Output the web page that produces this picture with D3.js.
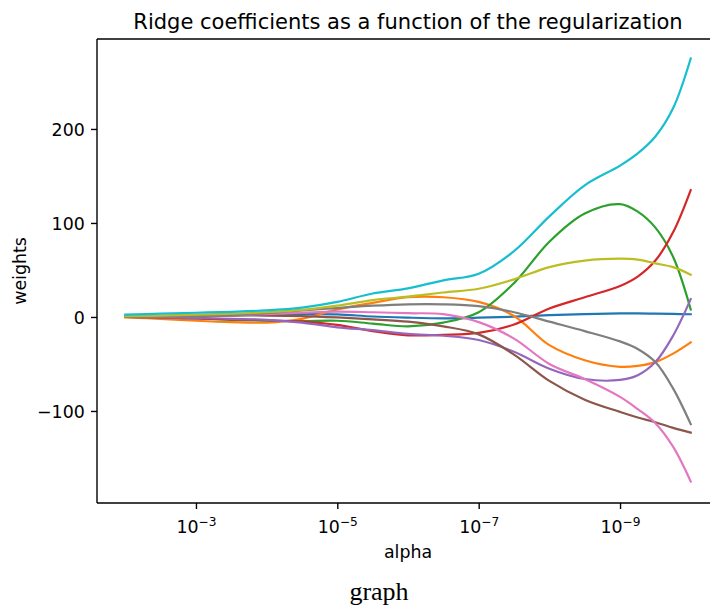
<!DOCTYPE html>
<html>
<head>
<meta charset="utf-8">
<script src="https://cdn.jsdelivr.net/npm/d3@7"></script>
<style>
  html, body { margin: 0; padding: 0; background: #fff; }
  svg { display: block; }
  text { font-family: "DejaVu Sans", sans-serif; fill: #000; }
</style>
</head>
<body>
<svg id="chart" width="710" height="609"></svg>
<script>
// ---- data ----
const logAlpha = [-2, -2.5, -3, -3.5, -4, -4.5, -5, -5.5, -6, -6.5, -7, -7.5, -8, -8.5, -9, -9.25, -9.5, -9.75, -10];

const coef0 = [0.5, 1, 1.5, 2, 2.5, 3, 2.8, 0.5, -0.7, -1.4, -0.8, 0.3, 2, 3, 3.8, 3.8, 3.5, 3.2, 2.9];
const coef1 = [-0.5, -2, -4, -5.5, -6, -2, 8, 15, 21, 21, 16, 1, -30, -46, -53, -52, -48, -39, -27];
const coef2 = [0, -0.5, -1.5, -3, -4, -4.5, -4, -7, -10, -6, 5, 36, 80, 110, 120, 112, 95, 64, 8];
const coef3 = [0, -0.5, -1.5, -2.5, -3.5, -5, -8.5, -15, -19.5, -19, -17, -8, 9, 21, 33, 43, 60, 90, 135];
const coef4 = [0, -0.5, -1, -2, -3, -6, -11, -14, -18, -20, -24.5, -37, -55, -66, -67, -62, -48, -20, 19];
const coef5 = [0, 0.5, 1, 1.5, 1.5, 1, -0.5, -2.5, -5, -10, -18.5, -40, -68, -88, -101, -107, -112, -118, -123];
const coef6 = [0, 0.5, 1, 2, 3, 4.5, 5.7, 5, 4, 3, -5.5, -23, -50, -66, -85, -98, -113, -138, -175];
const coef7 = [0, 0.5, 1, 2, 4, 7, 9.5, 12, 13.5, 13.5, 11.5, 5, -5, -15, -26, -34, -48, -76, -114];
const coef8 = [1, 1.5, 2.5, 3.5, 5, 7.5, 12, 18, 21.6, 26, 30, 40, 53, 60, 62, 61, 57, 53, 45];
const coef9 = [2.5, 3.5, 4.5, 5.5, 7, 10, 16, 25, 30.5, 39, 46, 70, 107, 140, 161, 174, 192, 222, 275];

const seriesList = [coef0, coef1, coef2, coef3, coef4, coef5, coef6, coef7, coef8, coef9];
const colors = ["#1f77b4", "#ff7f0e", "#2ca02c", "#d62728", "#9467bd",
                "#8c564b", "#e377c2", "#7f7f7f", "#bcbd22", "#17becf"];

const xTickExps = [-3, -5, -7, -9];
const yTicks = [-100, 0, 100, 200];

const titleText = "Ridge coefficients as a function of the regularization";
const xLabel = "alpha";
const yLabel = "weights";
const caption = "graph";

// ---- layout ----
const L = 97, R = 719, T = 39, B = 503;

const x = d3.scaleLog()
  .domain([Math.pow(10, -1.6), Math.pow(10, -10.4)])
  .range([L, R]);
const y = d3.scaleLinear()
  .domain([-197.9, 295.7])
  .range([B, T]);

const svg = d3.select("#chart");

svg.append("defs").append("clipPath").attr("id", "clip")
  .append("rect").attr("x", L).attr("y", T).attr("width", R - L).attr("height", B - T);

const line = d3.line()
  .x((d, i) => x(Math.pow(10, logAlpha[i])))
  .y(d => y(d))
  .curve(d3.curveCatmullRom.alpha(0.5));

svg.append("g").attr("clip-path", "url(#clip)")
  .selectAll("path")
  .data(seriesList)
  .join("path")
  .attr("d", d => line(d))
  .attr("fill", "none")
  .attr("stroke", (d, i) => colors[i])
  .attr("stroke-width", 2.2)
  .attr("stroke-linejoin", "round")
  .attr("stroke-linecap", "square");

// x axis
const xAxis = d3.axisBottom(x)
  .tickValues(xTickExps.map(e => Math.pow(10, e)))
  .tickSize(6)
  .tickSizeOuter(0)
  .tickFormat("");
const gx = svg.append("g").attr("transform", `translate(0,${B})`).call(xAxis);
gx.select(".domain").remove();
gx.selectAll(".tick line").attr("stroke", "#000").attr("stroke-width", 1.4);
gx.selectAll(".tick text")
  .attr("y", 30).attr("dy", null)
  .attr("font-size", 17.4)
  .attr("font-family", "DejaVu Sans, sans-serif")
  .attr("fill", "#000")
  .each(function(d) {
    const t = d3.select(this);
    const e = Math.round(Math.log10(d));
    t.text(null);
    t.append("tspan").text("10");
    t.append("tspan").attr("dy", -7.5).attr("font-size", 12.2).text("\u2212" + Math.abs(e));
  });

// y axis
const yAxis = d3.axisLeft(y)
  .tickValues(yTicks)
  .tickSize(6)
  .tickSizeOuter(0)
  .tickPadding(6.2)
  .tickFormat(d => d < 0 ? "\u2212" + Math.abs(d) : String(d));
const gy = svg.append("g").attr("transform", `translate(${L},0)`).call(yAxis);
gy.select(".domain").remove();
gy.selectAll(".tick line").attr("stroke", "#000").attr("stroke-width", 1.4);
gy.selectAll(".tick text")
  .attr("font-size", 17.4)
  .attr("font-family", "DejaVu Sans, sans-serif")
  .attr("fill", "#000")
  .attr("dy", "0.36em");

// spines
const spine = svg.append("g").attr("stroke", "#000").attr("stroke-width", 1.4);
spine.append("line").attr("x1", L).attr("x2", L).attr("y1", T).attr("y2", B);
spine.append("line").attr("x1", L).attr("x2", R).attr("y1", B).attr("y2", B);
spine.append("line").attr("x1", L).attr("x2", R).attr("y1", T).attr("y2", T);
spine.append("line").attr("x1", R).attr("x2", R).attr("y1", T).attr("y2", B);

// title
svg.append("text")
  .attr("x", (L + R) / 2).attr("y", 28.5)
  .attr("text-anchor", "middle")
  .attr("font-size", 21)
  .text(titleText);

// axis labels
svg.append("text")
  .attr("x", (L + R) / 2).attr("y", 558)
  .attr("text-anchor", "middle")
  .attr("font-size", 17.4)
  .text(xLabel);

svg.append("text")
  .attr("transform", `translate(26,${(T + B) / 2}) rotate(-90)`)
  .attr("text-anchor", "middle")
  .attr("font-size", 17.4)
  .text(yLabel);

// caption
svg.append("text")
  .attr("x", 379).attr("y", 600)
  .attr("text-anchor", "middle")
  .attr("font-size", 26)
  .style("font-family", "'Liberation Serif', 'Times New Roman', serif")
  .text(caption);
</script>
</body>
</html>
